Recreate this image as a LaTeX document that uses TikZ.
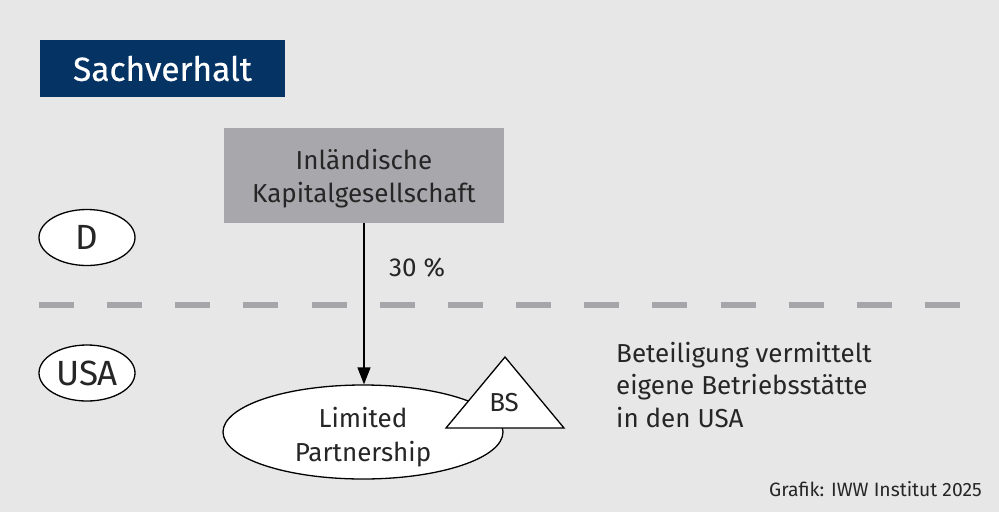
\documentclass[tikz,border=0pt]{standalone}
\usepackage{fontspec}
\setmainfont{Fira Sans}
\usetikzlibrary{shapes.geometric,arrows.meta}
\definecolor{bg}{HTML}{E7E7E7}
\definecolor{navy}{HTML}{053464}
\definecolor{boxgrey}{HTML}{A8A8AC}
\definecolor{dashgrey}{HTML}{A6A6AA}
\definecolor{txt}{HTML}{262626}
\tikzset{
  every node/.style={text=txt, inner sep=0pt},
  country/.style={draw=black, line width=1.3pt, fill=white, ellipse, minimum width=96pt, minimum height=56pt, font=\fontsize{35}{35}\selectfont},
  body/.style={font=\fontsize{26}{33.5}\selectfont, align=center},
  side/.style={font=\fontsize{26}{26}\selectfont, anchor=base west},
  dashline/.style={draw=dashgrey, line width=6pt, dash pattern=on 35pt off 33.15pt},
  link/.style={draw=black, line width=1.4pt, -{Triangle[length=17pt,width=13pt]}}
}
\begin{document}
\begin{tikzpicture}[x=1pt,y=-1pt]
\useasboundingbox[fill=bg] (0,0) rectangle (999,512);
\node[fill=navy, minimum width=245pt, minimum height=57pt, text=white, font=\fontsize{33.5}{33.5}\selectfont\addfontfeatures{FakeBold=0.5}] (title) at (162.5,68.5) {Sachverhalt};
\node[fill=boxgrey, minimum width=280pt, minimum height=95pt] (kap) at (364,175.5) {};
\node[body] (kaptext) at ([yshift=-3pt]kap.center) {Inländische\\Kapitalgesellschaft};
\node[country] (d) at (87,237.5) {D};
\node[country] (usa) at (87,373) {USA};
\coordinate (dl) at (39,305);
\coordinate (dr) at (962,305);
\draw[dashline] (dl) -- (dr);
\node[draw=black, line width=1.3pt, fill=white, ellipse, minimum width=280pt, minimum height=94pt] (lp) at (363,432) {};
\node[body] (lptext) at ([yshift=-5pt]lp.center) {Limited\\Partnership};
\draw[link] (kap.south) -- (kap.south |- lp.north);
\node[side] (pct) at (389,276) {30 \%};
\coordinate (ta) at (505,357);
\coordinate (tr) at (564,428);
\coordinate (tl) at (446,428);
\draw[draw=black, line width=1.3pt, fill=white] (ta) -- (tr) -- (tl) -- cycle;
\node[font=\fontsize{26}{26}\selectfont, anchor=base] (bs) at (504,411) {BS};
\node[side] (l1) at (616,362) {Beteiligung vermittelt};
\node[side] (l2) at (616,394.5) {eigene Betriebsstätte};
\node[side] (l3) at (616,427) {in den USA};
\node[font=\fontsize{19.3}{19.3}\selectfont, anchor=base east] (credit) at (982,496) {Grafik: IWW Institut 2025};
\end{tikzpicture}
\end{document}
